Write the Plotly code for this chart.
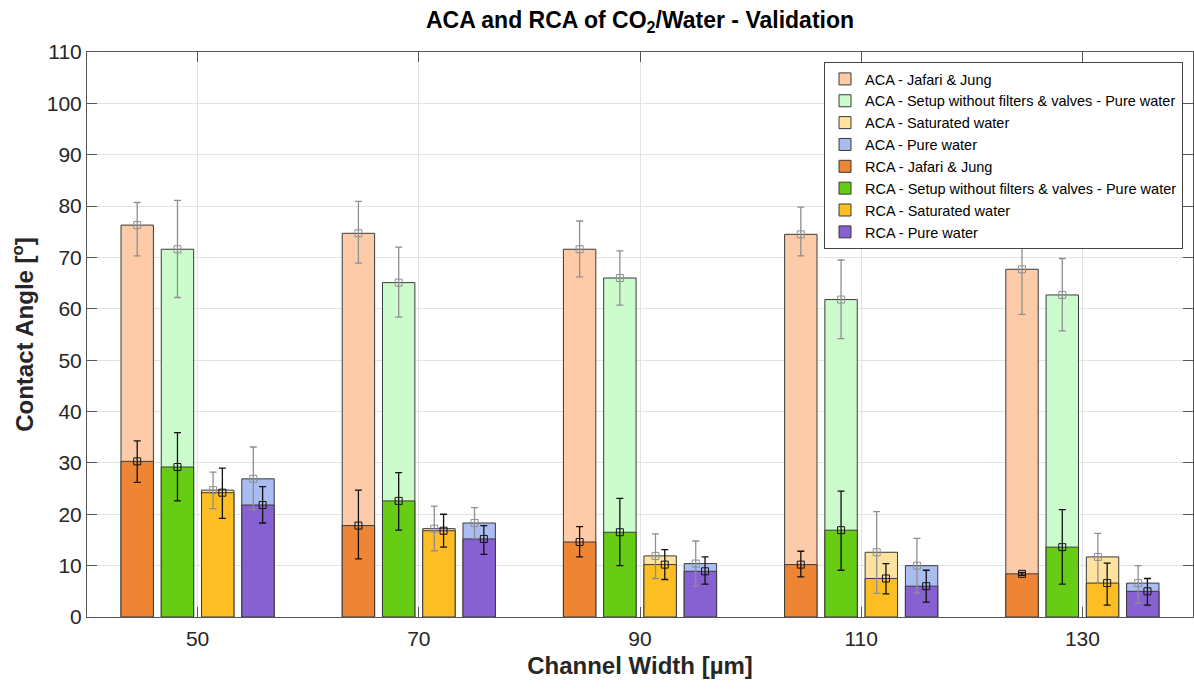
import plotly.graph_objects as go

# ---------------- data ----------------
channel_width = [50, 70, 90, 110, 130]
x_ticks = [50, 70, 90, 110, 130]
y_ticks = list(range(0, 111, 10))

series_names = [
    "Jafari & Jung",
    "Setup without filters & valves - Pure water",
    "Saturated water",
    "Pure water",
]

# Advancing contact angle (ACA)
aca_jafari = [76.3, 74.7, 71.6, 74.5, 67.7]
aca_jafari_up = [4.4, 6.2, 5.5, 5.3, 8.9]
aca_jafari_dn = [6.0, 5.8, 5.4, 4.2, 8.8]

aca_setup = [71.6, 65.1, 66.0, 61.8, 62.7]
aca_setup_up = [9.5, 6.9, 5.3, 7.7, 7.1]
aca_setup_dn = [9.4, 6.7, 5.3, 7.6, 7.0]

aca_saturated = [24.7, 17.2, 11.9, 12.6, 11.7]
aca_saturated_up = [3.5, 4.4, 4.3, 7.9, 4.6]
aca_saturated_dn = [3.6, 4.3, 4.4, 8.0, 5.0]

aca_pure = [26.9, 18.3, 10.4, 10.0, 6.6]
aca_pure_up = [6.2, 3.0, 4.4, 5.3, 3.4]
aca_pure_dn = [6.0, 3.0, 4.4, 5.3, 3.9]

# Receding contact angle (RCA)
rca_jafari = [30.3, 17.8, 14.6, 10.2, 8.4]
rca_jafari_up = [4.0, 6.9, 3.0, 2.6, 0.3]
rca_jafari_dn = [4.1, 6.5, 2.9, 2.4, 0.3]

rca_setup = [29.2, 22.6, 16.5, 16.9, 13.6]
rca_setup_up = [6.7, 5.5, 6.6, 7.6, 7.3]
rca_setup_dn = [6.6, 5.7, 6.5, 7.8, 7.2]

rca_saturated = [24.2, 16.8, 10.2, 7.5, 6.6]
rca_saturated_up = [4.8, 3.2, 2.9, 2.9, 3.9]
rca_saturated_dn = [5.0, 3.2, 2.9, 3.0, 4.3]

rca_pure = [21.8, 15.2, 8.9, 6.0, 5.0]
rca_pure_up = [3.6, 2.6, 2.8, 3.1, 2.5]
rca_pure_dn = [3.5, 3.0, 2.5, 3.1, 2.7]

aca_vals = [aca_jafari, aca_setup, aca_saturated, aca_pure]
aca_up = [aca_jafari_up, aca_setup_up, aca_saturated_up, aca_pure_up]
aca_dn = [aca_jafari_dn, aca_setup_dn, aca_saturated_dn, aca_pure_dn]
rca_vals = [rca_jafari, rca_setup, rca_saturated, rca_pure]
rca_up = [rca_jafari_up, rca_setup_up, rca_saturated_up, rca_pure_up]
rca_dn = [rca_jafari_dn, rca_setup_dn, rca_saturated_dn, rca_pure_dn]

# ---------------- style ----------------
aca_colors = ["#FDCBA8", "#CCFCCC", "#FEE29E", "#AABDF0"]
rca_colors = ["#EE8535", "#67CC14", "#FDBE24", "#8760D2"]
err_shift = [0.0, 0.0, 0.42, 0.42]  # ACA error bars shift left, RCA right
PITCH = 3.64
BAR_W = 2.93
FONT = "Liberation Sans, Arial, sans-serif"
EDGE = "#3a3a3a"

fig = go.Figure()

for i, name in enumerate(series_names):
    off = (i - 1.5) * PITCH
    fig.add_trace(go.Bar(
        x=channel_width, y=aca_vals[i], name="ACA - " + name,
        width=BAR_W, offset=off - BAR_W / 2,
        marker=dict(color=aca_colors[i], line=dict(color=EDGE, width=1)),
    ))
for i, name in enumerate(series_names):
    off = (i - 1.5) * PITCH
    fig.add_trace(go.Bar(
        x=channel_width, y=rca_vals[i], name="RCA - " + name,
        width=BAR_W, offset=off - BAR_W / 2,
        marker=dict(color=rca_colors[i], line=dict(color=EDGE, width=1)),
    ))

for i in range(4):
    off = (i - 1.5) * PITCH
    fig.add_trace(go.Scatter(
        x=[w + off - err_shift[i] for w in channel_width], y=aca_vals[i],
        mode="markers", showlegend=False, hoverinfo="skip",
        marker=dict(symbol="square-open", size=7, color="#8f8f8f", line=dict(width=1)),
        error_y=dict(type="data", symmetric=False, array=aca_up[i], arrayminus=aca_dn[i],
                     color="#8f8f8f", thickness=1.3, width=3.5),
    ))
for i in range(4):
    off = (i - 1.5) * PITCH
    fig.add_trace(go.Scatter(
        x=[w + off + err_shift[i] for w in channel_width], y=rca_vals[i],
        mode="markers", showlegend=False, hoverinfo="skip",
        marker=dict(symbol="square-open", size=7, color="#111111", line=dict(width=1)),
        error_y=dict(type="data", symmetric=False, array=rca_up[i], arrayminus=rca_dn[i],
                     color="#111111", thickness=1.3, width=3.5),
    ))

axis_common = dict(
    showline=True, linecolor="#555555", linewidth=1, mirror="ticks",
    ticks="inside", ticklen=10, tickcolor="#555555", tickwidth=1,
    showgrid=True, gridcolor="#e3e3e3", gridwidth=1,
    tickfont=dict(family=FONT, size=21, color="#262626"),
    zeroline=False,
)

fig.update_layout(
    width=1194, height=690,
    margin=dict(l=87, r=1, t=52, b=73),
    paper_bgcolor="white", plot_bgcolor="white",
    barmode="overlay",
    font=dict(family=FONT, color="#262626"),
    title=dict(text="<b>ACA and RCA of CO<sub>2</sub>/Water - Validation</b>",
               x=0.5, xref="paper", xanchor="center",
               y=1 - 20 / 690, yref="container", yanchor="middle",
               font=dict(family=FONT, size=23, color="black")),
    xaxis=dict(range=[40, 140], tickvals=x_ticks, ticktext=[str(v) for v in x_ticks],
               ticklabelstandoff=3,
               title=dict(text="<b>Channel Width [µm]</b>", standoff=7,
                          font=dict(family=FONT, size=24, color="#262626")),
               **axis_common),
    yaxis=dict(range=[0, 110], tickvals=y_ticks,
               title=dict(text="<b>Contact Angle [<sup>o</sup>]</b>", standoff=6,
                          font=dict(family=FONT, size=24, color="#262626")),
               **axis_common),
    legend=dict(x=1 - 10 / 1106, xanchor="right", y=1 - 10 / 565.6, yanchor="top",
                bgcolor="white", bordercolor="#444444", borderwidth=1,
                font=dict(family=FONT, size=14.5, color="black"),
                tracegroupgap=0, itemwidth=30),
    showlegend=True,
)

fig.write_html("out.html")
